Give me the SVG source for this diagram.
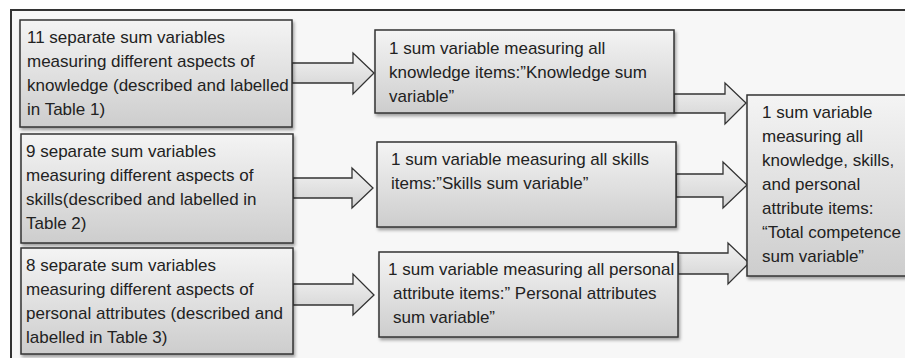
<svg xmlns="http://www.w3.org/2000/svg" width="905" height="358" viewBox="0 0 905 358">
<defs>
<linearGradient id="g" x1="0" y1="0" x2="0" y2="1">
<stop offset="0" stop-color="#f4f4f4"/>
<stop offset="1" stop-color="#cdcdcd"/>
</linearGradient>
<linearGradient id="ga" x1="0" y1="0" x2="0" y2="1">
<stop offset="0" stop-color="#f2f2f2"/>
<stop offset="1" stop-color="#d2d2d2"/>
</linearGradient>
<filter id="sh" x="-10%" y="-10%" width="130%" height="140%">
<feDropShadow dx="1.5" dy="2.5" stdDeviation="1.8" flood-color="#000" flood-opacity="0.35"/>
</filter>
</defs>
<style>
.box{fill:url(#g);stroke:#333;stroke-width:1.5;filter:url(#sh)}
.arr{fill:url(#ga);stroke:#333;stroke-width:1.3;stroke-linejoin:miter}
text{font-family:"Liberation Sans",Arial,Helvetica,sans-serif;font-size:17px;fill:#222}
</style>
<rect x="11" y="10" width="905" height="360" fill="#f7f7f7" stroke="#333" stroke-width="2"/>
<g id="connectors">
<path class="arr" d="M292,63 H353 V53 L374,73 L353,94 V83 H292 Z"/>
<path class="arr" d="M293,178 H352 V168 L373,188 L352,208 V198 H293 Z"/>
<path class="arr" d="M293,284 H353 V274 L374,295 L353,315 V305 H293 Z"/>
<path class="arr" d="M674,94 H725 V83 L746,103 L725,124 V113 H674 Z"/>
<path class="arr" d="M676,174 H723 V162 L747,185 L723,208 V197 H676 Z"/>
<path class="arr" d="M678,253 H728 V243 L749,263 L728,284 V274 H678 Z"/>
</g>
<g id="n1">
<rect class="box" x="20" y="20" width="272" height="107"/>
<text x="27" y="43">11 separate sum variables</text>
<text x="27" y="67">measuring different aspects of</text>
<text x="27" y="91">knowledge (described and labelled</text>
<text x="27" y="115">in Table 1)</text>
</g>
<g id="n2">
<rect class="box" x="21" y="134" width="272" height="109"/>
<text x="26" y="157">9 separate sum variables</text>
<text x="26" y="181">measuring different aspects of</text>
<text x="26" y="205">skills(described and labelled in</text>
<text x="26" y="229">Table 2)</text>
</g>
<g id="n3">
<rect class="box" x="21" y="248" width="272" height="106"/>
<text x="26" y="271">8 separate sum variables</text>
<text x="26" y="295">measuring different aspects of</text>
<text x="26" y="319">personal attributes (described and</text>
<text x="26" y="343">labelled in Table 3)</text>
</g>
<g id="m1">
<rect class="box" x="375" y="30" width="299" height="83"/>
<text x="389" y="54">1 sum variable measuring all</text>
<text x="389" y="78">knowledge items:”Knowledge sum</text>
<text x="389" y="102">variable”</text>
</g>
<g id="m2">
<rect class="box" x="377" y="142" width="299" height="85"/>
<text x="391" y="165">1 sum variable measuring all skills</text>
<text x="391" y="189">items:”Skills sum variable”</text>
</g>
<g id="m3">
<rect class="box" x="379" y="252" width="299" height="85"/>
<text x="388" y="275">1 sum variable measuring all personal</text>
<text x="393" y="299">attribute items:” Personal attributes</text>
<text x="393" y="323">sum variable”</text>
</g>
<g id="r">
<rect class="box" x="747" y="95" width="170" height="181"/>
<text x="762" y="118">1 sum variable</text>
<text x="762" y="142">measuring all</text>
<text x="762" y="166">knowledge, skills,</text>
<text x="762" y="190">and personal</text>
<text x="762" y="214">attribute items:</text>
<text x="762" y="238">“Total competence</text>
<text x="762" y="262">sum variable”</text>
</g>
</svg>
